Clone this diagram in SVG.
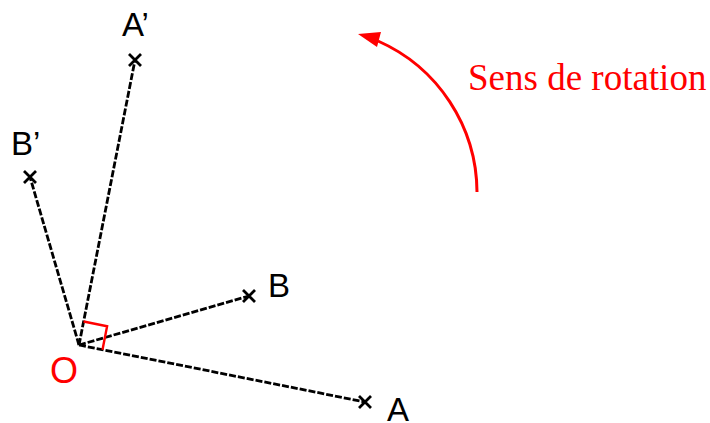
<svg xmlns="http://www.w3.org/2000/svg" width="710" height="423" viewBox="0 0 710 423">
<defs>
<style>
.seg{stroke:#000;stroke-width:2.8;stroke-dasharray:7 2;fill:none}
.cross{stroke:#000;stroke-width:2.8;fill:none}
.lbl{font-family:"Liberation Sans",Arial,sans-serif;font-size:33px;fill:#000}
.red{fill:#ff0000}
</style>
<g id="x"><path class="cross" d="M-6,-6L6,6M-6,6L6,-6"/></g>
</defs>
<rect width="710" height="423" fill="#fff"/>
<g id="connectors">
<line class="seg" x1="79" y1="345" x2="365" y2="402"/>
<line class="seg" x1="79" y1="345" x2="249" y2="296"/>
<line class="seg" x1="79" y1="345" x2="135" y2="60"/>
<line class="seg" x1="79" y1="345" x2="30" y2="177"/>
</g>
<g id="right-angle"><path d="M83.6,321.5L107.1,326.2L102.5,349.7" fill="none" stroke="#ff0000" stroke-width="2.4"/></g>
<g id="node-O"><text class="lbl red" x="50" y="383" style="font-size:36px">O</text></g>
<g id="node-A"><use href="#x" x="365" y="402"/><text class="lbl" x="387" y="421">A</text></g>
<g id="node-B"><use href="#x" x="249" y="296"/><text class="lbl" x="268" y="297">B</text></g>
<g id="node-A2"><use href="#x" x="135" y="60"/><text class="lbl" x="122" y="36">A’</text></g>
<g id="node-B2"><use href="#x" x="30" y="177"/><text class="lbl" x="11" y="155">B’</text></g>
<g id="rotation">
<path d="M477,192A166,166 0 0 0 378,41" fill="none" stroke="#ff0000" stroke-width="3"/>
<polygon points="358,34 381,32 377,47" fill="#ff0000"/>
<text x="468" y="90" style="font-family:'Liberation Serif','Times New Roman',serif;font-size:37px" fill="#ff0000">Sens de rotation</text>
</g>
</svg>
